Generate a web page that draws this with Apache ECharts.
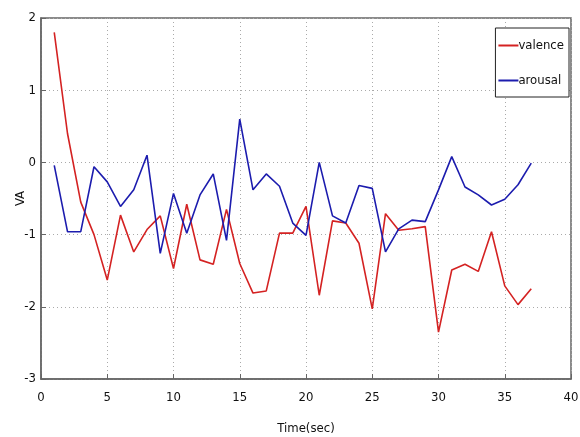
<!DOCTYPE html>
<html>
<head>
<meta charset="utf-8">
<script src="https://cdn.jsdelivr.net/npm/echarts@6/dist/echarts.min.js"></script>
<style>
	html, body { margin: 0; padding: 0; background: #fff; }
	#main { width: 580px; height: 437px; }
</style>
</head>
<body>
<div id="main"></div>
<script>
// time in seconds
var times = [1,2,3,4,5,6,7,8,9,10,11,12,13,14,15,16,17,18,19,20,21,22,23,24,25,26,27,28,29,30,31,32,33,34,35,36,37];

var valence = [1.80,0.40,-0.55,-1.00,-1.63,-0.73,-1.24,-0.93,-0.74,-1.47,-0.58,-1.35,-1.41,-0.65,-1.40,-1.81,-1.78,-0.98,-0.98,-0.61,-1.84,-0.81,-0.84,-1.12,-2.03,-0.71,-0.94,-0.92,-0.89,-2.35,-1.49,-1.41,-1.51,-0.96,-1.71,-1.97,-1.75];

var arousal = [-0.04,-0.96,-0.96,-0.06,-0.27,-0.61,-0.38,0.10,-1.26,-0.43,-0.98,-0.45,-0.16,-1.08,0.60,-0.38,-0.16,-0.33,-0.84,-1.01,0.00,-0.74,-0.84,-0.32,-0.36,-1.24,-0.92,-0.80,-0.82,-0.38,0.08,-0.34,-0.45,-0.59,-0.51,-0.31,-0.01];

var xTicks = [0,5,10,15,20,25,30,35,40];
var yTicks = [-3,-2,-1,0,1,2];

function pairs(vals){
	var out = [];
	for(var i = 0; i < times.length; i++){
		out.push([times[i], vals[i]]);
	}
	return out;
}

var fontFam = "'Liberation Sans Narrow', 'DejaVu Sans Condensed', 'Liberation Sans', Arial, sans-serif";

var chart = echarts.init(document.getElementById('main'));
chart.setOption({
	animation: false,
	backgroundColor: '#fff',
	grid: { left: 41, right: 9, top: 18, bottom: 58, outerBoundsMode: 'none', containLabel: false, show: true, borderColor: '#666', borderWidth: 1.5 },
	legend: {
		orient: 'vertical',
		right: 11,
		top: 28,
		padding: [11, 5, 10, 3],
		itemWidth: 20,
		itemHeight: 10,
		itemGap: 22,
		backgroundColor: '#fff',
		borderColor: '#222',
		borderWidth: 1,
		textStyle: { fontFamily: fontFam, fontSize: 13, color: '#111', padding: [0,0,0,-5] },
		data: [
			{ name: 'valence', icon: 'path://M0,0 L20,0 L20,2 L0,2 Z' },
			{ name: 'arousal', icon: 'path://M0,0 L20,0 L20,2 L0,2 Z' }
		]
	},
	xAxis: {
		type: 'value',
		min: xTicks[0],
		max: xTicks[xTicks.length - 1],
		interval: 5,
		name: 'Time(sec)',
		nameLocation: 'middle',
		nameGap: 43,
		nameTextStyle: { fontFamily: fontFam, fontSize: 13, color: '#111' },
		axisLine: { onZero: false, lineStyle: { color: '#666', width: 1.5 } },
		axisTick: { inside: true, length: 5, lineStyle: { color: '#666' } },
		axisLabel: { fontFamily: fontFam, fontSize: 13, color: '#111', margin: 12 },
		splitLine: { show: true, lineStyle: { color: '#aaa', type: [1, 3] } }
	},
	yAxis: {
		type: 'value',
		min: yTicks[0],
		max: yTicks[yTicks.length - 1],
		interval: 1,
		name: 'VA',
		nameLocation: 'middle',
		nameGap: 14,
		nameRotate: 90,
		nameMoveOverlap: false,
		nameTextStyle: { fontFamily: fontFam, fontSize: 13, color: '#111' },
		axisLine: { show: true, onZero: false, lineStyle: { color: '#666', width: 1.5 } },
		axisTick: { show: true, inside: true, length: 5, lineStyle: { color: '#666' } },
		axisLabel: { fontFamily: fontFam, fontSize: 13, color: '#111', margin: 5 },
		splitLine: { show: true, lineStyle: { color: '#aaa', type: [1, 3] } }
	},
	series: [
		{
			name: 'valence',
			type: 'line',
			data: pairs(valence),
			showSymbol: false,
			color: '#d42222',
			lineStyle: { width: 1.6, color: '#d42222' }
		},
		{
			name: 'arousal',
			type: 'line',
			data: pairs(arousal),
			showSymbol: false,
			color: '#1c1cae',
			lineStyle: { width: 1.6, color: '#1c1cae' }
		}
	]
});
</script>
</body>
</html>
